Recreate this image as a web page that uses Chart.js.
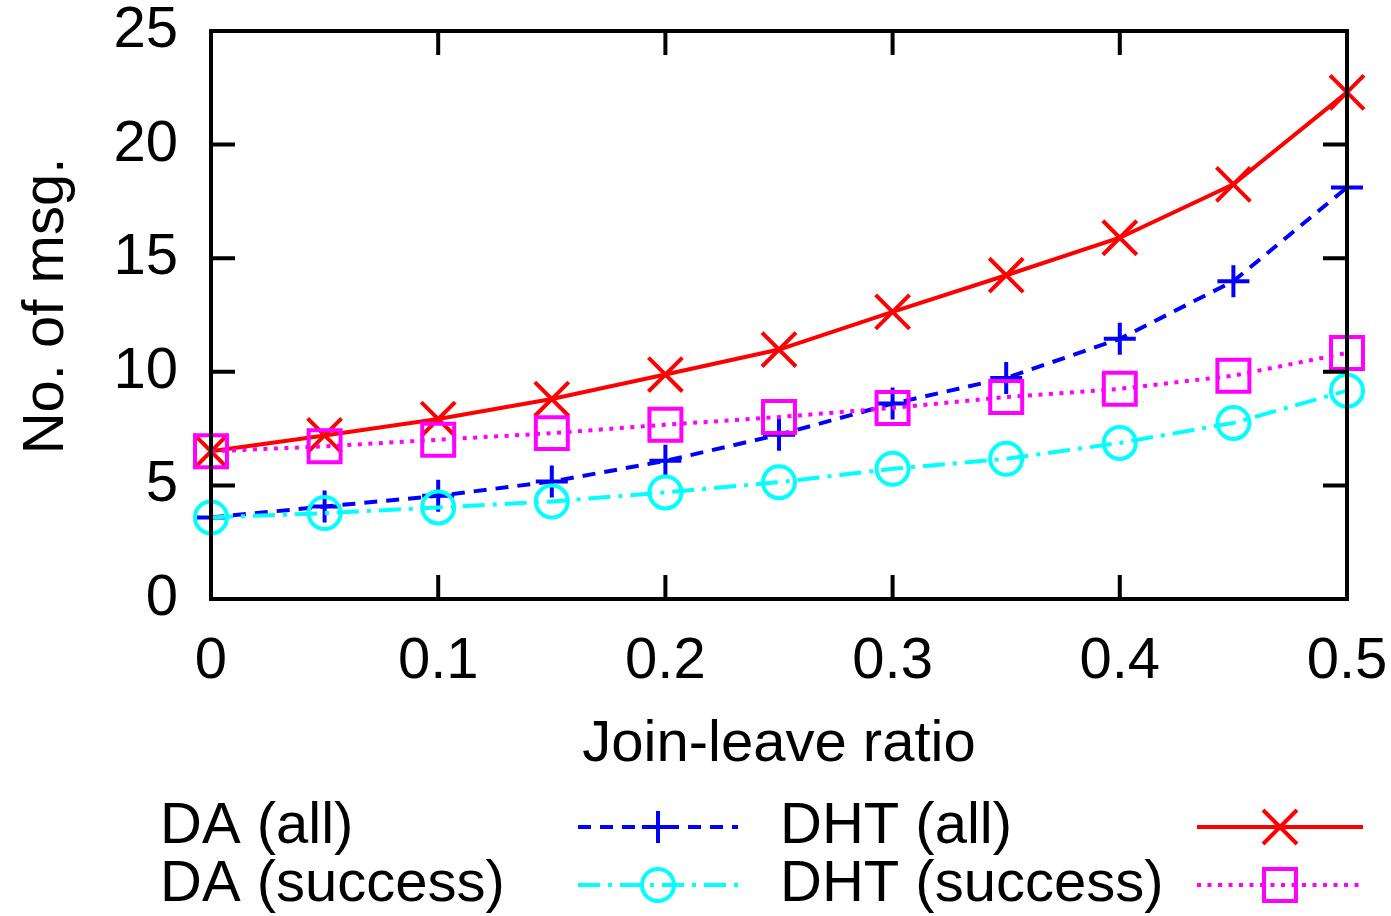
<!DOCTYPE html>
<html>
<head>
<meta charset="utf-8">
<script src="https://cdn.jsdelivr.net/npm/chart.js@4.4.0/dist/chart.umd.min.js"></script>
<style>
  html, body { margin: 0; padding: 0; background: #ffffff; }
  #wrap { width: 1391px; height: 916px; }
</style>
</head>
<body>
<div id="wrap"><canvas id="c" width="1391" height="916"></canvas></div>
<script>
// ---- data ----
const ratios = [0, 0.05, 0.1, 0.15, 0.2, 0.25, 0.3, 0.35, 0.4, 0.45, 0.5];
const daAll = [3.59, 4.07, 4.54, 5.17, 6.08, 7.23, 8.6, 9.73, 11.45, 13.99, 18.11];
const daSuccess = [3.59, 3.78, 4.03, 4.29, 4.69, 5.14, 5.73, 6.17, 6.87, 7.75, 9.17];
const dhtAll = [6.5, 7.2, 7.92, 8.8, 9.88, 10.98, 12.64, 14.25, 15.9, 18.25, 22.3];
const dhtSuccess = [6.5, 6.72, 7.01, 7.3, 7.67, 8.01, 8.41, 8.89, 9.25, 9.83, 10.83];
const seriesNames = ['DA (all)', 'DA (success)', 'DHT (all)', 'DHT (success)'];
const xTicks = [0, 0.1, 0.2, 0.3, 0.4, 0.5];
const yTicks = [0, 5, 10, 15, 20, 25];
const xTitle = 'Join-leave ratio';
const yTitle = 'No. of msg.';

const FONT = '"Liberation Sans", Arial, Helvetica, sans-serif';
const FS = 58;

function pts(arr) { return ratios.map((x, i) => ({ x: x, y: arr[i] })); }

const datasets = [
  { label: seriesNames[0], data: pts(daAll), borderColor: '#0000ff', borderDash: [13, 9],
    pointStyle: 'cross', pointRadius: 16, order: 3 },
  { label: seriesNames[1], data: pts(daSuccess), borderColor: '#00ffff', borderDash: [22, 8, 4, 8],
    pointStyle: 'circle', pointRadius: 16, order: 2 },
  { label: seriesNames[2], data: pts(dhtAll), borderColor: '#ff0000', borderDash: [],
    pointStyle: 'crossRot', pointRadius: 24, order: 1 },
  { label: seriesNames[3], data: pts(dhtSuccess), borderColor: '#ff00ff', borderDash: [4, 6.5],
    pointStyle: 'rect', pointRadius: 22.6, order: 0 }
].map(d => Object.assign({
  borderWidth: 4, pointBorderWidth: 4, pointBackgroundColor: 'rgba(0,0,0,0)',
  pointBorderColor: d.borderColor, pointHoverRadius: d.pointRadius, tension: 0,
  fill: false, clip: false
}, d));

const framePlugin = {
  id: 'frame',
  afterDatasetsDraw(chart) {
    const ctx = chart.ctx;
    const a = chart.chartArea;
    const xs = chart.scales.x, ys = chart.scales.y;
    const TL = 24;
    ctx.save();
    ctx.strokeStyle = '#000';
    ctx.lineWidth = 4;
    ctx.setLineDash([]);
    ctx.beginPath();
    yTicks.forEach(v => {
      const y = ys.getPixelForValue(v);
      if (v > 0 && v < 25) {
        ctx.moveTo(a.left, y); ctx.lineTo(a.left + TL, y);
        ctx.moveTo(a.right, y); ctx.lineTo(a.right - TL, y);
      }
    });
    xTicks.forEach(v => {
      const x = xs.getPixelForValue(v);
      if (v > 0 && v < 0.5) {
        ctx.moveTo(x, a.bottom); ctx.lineTo(x, a.bottom - TL);
        ctx.moveTo(x, a.top); ctx.lineTo(x, a.top + TL);
      }
    });
    ctx.stroke();
    ctx.strokeRect(a.left, a.top, a.right - a.left, a.bottom - a.top);
    ctx.restore();
  },
  afterDraw(chart) {
    const ctx = chart.ctx;
    ctx.save();
    ctx.fillStyle = '#000';
    ctx.font = FS + 'px ' + FONT;
    ctx.textBaseline = 'middle';
    ctx.textAlign = 'center';
    ctx.fillText(xTitle, 779, 745);
    ctx.save();
    ctx.translate(47, 306);
    ctx.rotate(-Math.PI / 2);
    ctx.fillText(yTitle, 0, 0);
    ctx.restore();
    // legend
    const rows = [827, 885];
    const textX = [160, 780];
    const lineX = [[578, 738], [1197, 1363]];
    chart.data.datasets.forEach((d, i) => {
      const col = Math.floor(i / 2), row = i % 2;
      const y = rows[row];
      ctx.textAlign = 'left';
      ctx.fillStyle = '#000';
      ctx.fillText(d.label, textX[col], y);
      ctx.strokeStyle = d.borderColor;
      ctx.lineWidth = d.borderWidth;
      ctx.setLineDash(d.borderDash);
      ctx.beginPath();
      ctx.moveTo(lineX[col][0], y);
      ctx.lineTo(lineX[col][1], y);
      ctx.stroke();
      ctx.setLineDash([]);
      ctx.lineWidth = d.pointBorderWidth;
      ctx.fillStyle = 'rgba(0,0,0,0)';
      Chart.helpers.drawPoint(ctx, { pointStyle: d.pointStyle, radius: d.pointRadius, rotation: 0, borderWidth: d.pointBorderWidth },
        (lineX[col][0] + lineX[col][1]) / 2, y);
    });
    ctx.restore();
  }
};

function zeroPad(scale) {
  scale.paddingTop = 0; scale.paddingBottom = 0; scale.paddingLeft = 0; scale.paddingRight = 0;
}

new Chart(document.getElementById('c'), {
  type: 'line',
  data: { datasets: datasets },
  options: {
    responsive: false,
    animation: false,
    events: [],
    layout: { padding: { left: 0, top: 31, right: 44, bottom: 0 } },
    plugins: { legend: { display: false }, tooltip: { enabled: false }, title: { display: false } },
    scales: {
      x: {
        type: 'linear', min: 0, max: 0.5,
        afterBuildTicks(scale) { scale.ticks = xTicks.map(v => ({ value: v })); },
        afterFit(scale) { scale.height = 317; zeroPad(scale); },
        ticks: { font: { family: FONT, size: FS }, color: '#000', padding: 28, maxRotation: 0,
                 callback: v => String(v) },
        grid: { display: false, drawTicks: false },
        border: { display: false }
      },
      y: {
        type: 'linear', min: 0, max: 25,
        afterBuildTicks(scale) { scale.ticks = yTicks.map(v => ({ value: v })); },
        afterFit(scale) { scale.width = 211; zeroPad(scale); },
        ticks: { font: { family: FONT, size: FS }, color: '#000', padding: 33,
                 callback: v => String(v) },
        grid: { display: false, drawTicks: false },
        border: { display: false }
      }
    }
  },
  plugins: [framePlugin]
});
</script>
</body>
</html>
